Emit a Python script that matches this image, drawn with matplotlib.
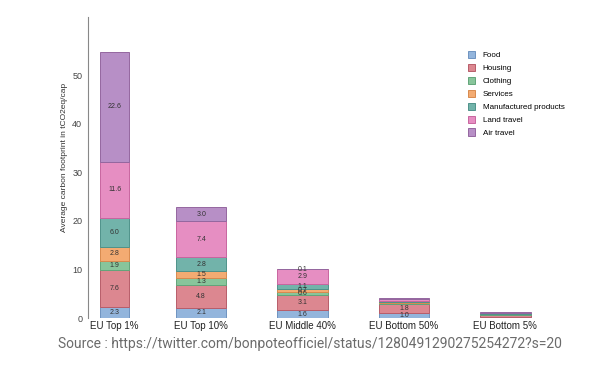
import numpy as np
import matplotlib.pyplot as plt

plt.rcParams['font.family'] = ['Liberation Sans', 'DejaVu Sans']

groups = ['EU Top 1%', 'EU Top 10%', 'EU Middle 40%', 'EU Bottom 50%', 'EU Bottom 5%']
categories = ['Food', 'Housing', 'Clothing', 'Services', 'Manufactured products',
              'Land travel', 'Air travel']

# values per category, one entry per group (tCO2eq/cap)
food = [2.3, 2.1, 1.6, 1.0, 0.3]
housing = [7.6, 4.8, 3.1, 1.8, 0.4]
clothing = [1.9, 1.3, 0.6, 0.2, 0.1]
services = [2.8, 1.5, 0.7, 0.2, 0.1]
manufactured = [6.0, 2.8, 1.1, 0.3, 0.1]
land_travel = [11.6, 7.4, 2.9, 0.5, 0.1]
air_travel = [22.6, 3.0, 0.1, 0.05, 0.05]

# how many segments (from bottom) carry a value label in each group
n_labelled = [7, 7, 7, 2, 0]

series = [food, housing, clothing, services, manufactured, land_travel, air_travel]
colors = ['#93b5dc', '#dc8790', '#88c59b', '#f3ab72', '#72b3aa', '#e68ec2', '#b78fc6']
edges = ['#6f93c0', '#b85d6a', '#62a57a', '#d88a4e', '#4f928a', '#c8659f', '#94679f']

xpos = np.array([0.147, 1, 2, 3, 4])
widths = [0.28, 0.5, 0.5, 0.5, 0.5]

fig = plt.figure(figsize=(5.93, 3.67), dpi=100)
ax = fig.add_axes([0.148, 0.1335, 0.812, 0.82])

bottom = np.zeros(len(groups))
for i, (vals, name) in enumerate(zip(series, categories)):
    vals = np.array(vals)
    ax.bar(xpos, vals, width=widths, bottom=bottom, color=colors[i],
           edgecolor=edges[i], linewidth=0.7, label=name)
    for j in range(len(groups)):
        if i < n_labelled[j]:
            ax.text(xpos[j], bottom[j] + vals[j] / 2, '%.1f' % vals[j],
                    ha='center', va='center', fontsize=5, color='#333333')
    bottom += vals

ax.set_xlim(-0.118, 4.63)
ax.set_ylim(0, 62)
ax.set_yticks([0, 10, 20, 30, 40, 50])
ax.set_xticks(xpos)
ax.set_xticklabels(groups, fontsize=7, color='#222222')
ax.tick_params(axis='y', length=0, labelsize=6.5, labelcolor='#444444', pad=4)
ax.tick_params(axis='x', length=0, pad=2)
for s in ['top', 'right', 'bottom']:
    ax.spines[s].set_visible(False)
ax.spines['left'].set_color('#888888')
ax.spines['left'].set_linewidth(0.8)
ax.set_ylabel('Average carbon footprint in tCO2eq/cap', fontsize=6, color='#333333')
ax.yaxis.set_label_coords(-0.042, 0.535)

leg = ax.legend(loc='upper left', bbox_to_anchor=(0.782, 0.872),
                bbox_transform=fig.transFigure, frameon=False, fontsize=5.8,
                handlelength=0.85, handleheight=1.05, handletextpad=1.0,
                labelspacing=0.55, borderpad=0)

fig.text(0.523, 0.063, 'Source : https://twitter.com/bonpoteofficiel/status/1280491290275254272?s=20',
         ha='center', va='center', fontsize=10, color='#6b6b6b', family=['Roboto', 'DejaVu Sans'])

fig.savefig('out.png', dpi=100)
